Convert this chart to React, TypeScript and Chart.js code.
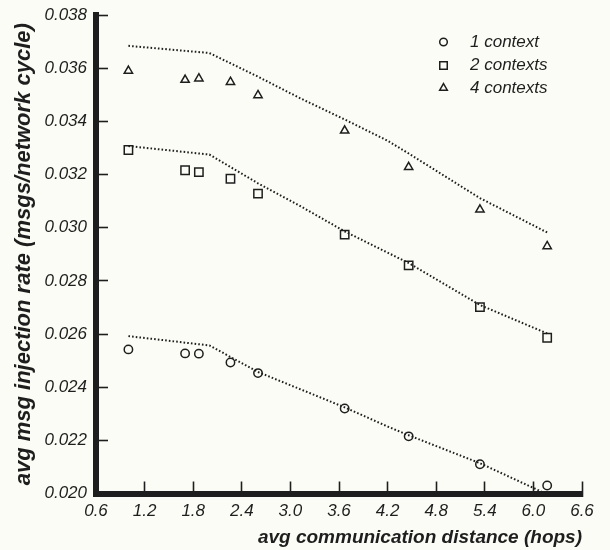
import React, { useEffect, useRef } from 'react';
import { Chart, registerables } from 'chart.js';
import { drawPoint } from 'chart.js/helpers';

Chart.register(...registerables);

// ---- data ----
const distances = [1.0, 1.7, 1.87, 2.26, 2.6, 3.67, 4.46, 5.34, 6.17];
const oneContext = [0.02542, 0.02527, 0.02526, 0.02493, 0.02453, 0.0232, 0.02215, 0.0211, 0.0203];
const twoContexts = [0.03292, 0.03216, 0.03209, 0.03184, 0.03128, 0.02974, 0.02858, 0.02701, 0.02586];
const fourContexts = [0.0359, 0.03556, 0.03561, 0.03548, 0.03498, 0.03365, 0.03228, 0.03068, 0.0293];

const modelDistances = [1.0, 2.0, 2.6, 3.1, 3.67, 4.2, 4.46, 5.34, 6.17];
const oneContextModel = [0.02592, 0.02557, 0.02457, 0.02395, 0.02324, 0.02252, 0.02219, 0.02114, 0.01997];
const twoContextsModel = [0.03307, 0.03275, 0.03167, 0.03085, 0.02986, 0.02906, 0.02867, 0.02709, 0.02602];
const fourContextsModel = [0.03684, 0.03657, 0.03568, 0.0349, 0.03407, 0.03327, 0.03279, 0.03111, 0.02982];

const seriesLabels = ['1 context', '2 contexts', '4 contexts'];
const xTickValues = [0.6, 1.2, 1.8, 2.4, 3.0, 3.6, 4.2, 4.8, 5.4, 6.0, 6.6];
const yTickValues = [0.02, 0.022, 0.024, 0.026, 0.028, 0.03, 0.032, 0.034, 0.036, 0.038];
const xTitle = 'avg communication distance (hops)';
const yTitle = 'avg msg injection rate (msgs/network cycle)';

const INK = '#1e1e1e';
const PAPER = '#fcfcf6';
const FAMILY = '"Liberation Sans", Arial, Helvetica, sans-serif';

const toPoints = (xs: number[], ys: number[]) => xs.map((x, i) => ({ x, y: ys[i] }));

const markerStyles = [
  { pointStyle: 'circle', radius: 4.2, legendRadius: 3.8 },
  { pointStyle: 'rect', radius: 5.9, legendRadius: 5.3 },
  { pointStyle: 'triangle', radius: 4.8, legendRadius: 4.4 },
];

const insetLegend = {
  id: 'insetLegend',
  afterDatasetsDraw(chart: any) {
    const { ctx, chartArea } = chart;
    const mx = chartArea.right - 138.5;
    const tx = mx + 26.5;
    const rows = [27, 50.5, 73];
    ctx.save();
    seriesLabels.forEach((label, i) => {
      const y = chartArea.top + rows[i];
      ctx.strokeStyle = INK;
      ctx.fillStyle = 'rgba(0,0,0,0)';
      ctx.lineWidth = 1.5;
      drawPoint(ctx, { pointStyle: markerStyles[i].pointStyle, radius: markerStyles[i].legendRadius, rotation: 0, borderWidth: 1.5 } as any, mx, y);
      ctx.fillStyle = INK;
      ctx.font = `italic 17px ${FAMILY}`;
      ctx.textAlign = 'left';
      ctx.textBaseline = 'middle';
      ctx.fillText(label, tx, y);
    });
    ctx.restore();
  },
};

export default function App() {
  const canvasRef = useRef<HTMLCanvasElement | null>(null);

  useEffect(() => {
    const canvas = canvasRef.current;
    if (!canvas) return;

    const pointSets = [oneContext, twoContexts, fourContexts];
    const modelSets = [oneContextModel, twoContextsModel, fourContextsModel];

    const pointDatasets = pointSets.map((ys, i) => ({
      label: seriesLabels[i],
      data: toPoints(distances, ys),
      showLine: false,
      pointStyle: markerStyles[i].pointStyle,
      pointRadius: markerStyles[i].radius,
      pointBorderWidth: 1.5,
      pointBorderColor: INK,
      pointBackgroundColor: 'rgba(0,0,0,0)',
      borderColor: INK,
      backgroundColor: 'rgba(0,0,0,0)',
      order: 0,
    }));

    const modelDatasets = modelSets.map((ys, i) => ({
      label: seriesLabels[i] + ' model',
      data: toPoints(modelDistances, ys),
      showLine: true,
      pointRadius: 0,
      borderColor: INK,
      borderWidth: 2,
      borderDash: [1.6, 2.1],
      tension: 0,
      fill: false,
      order: 1,
    }));

    const tickFont = { family: FAMILY, size: 17, style: 'italic' as const };
    const xTitleFont = { family: FAMILY, size: 19, style: 'italic' as const, weight: 'bold' as const };
    const yTitleFont = { family: FAMILY, size: 22, style: 'italic' as const, weight: 'bold' as const };

    const chart = new Chart(canvas, {
      type: 'scatter',
      data: { datasets: [...pointDatasets, ...modelDatasets] as any },
      options: {
        responsive: false,
        animation: false,
        events: [],
        layout: { padding: { left: 0, right: 28, top: 15, bottom: 0 } },
        plugins: {
          legend: { display: false },
          tooltip: { enabled: false },
        },
        scales: {
          x: {
            type: 'linear',
            position: 'bottom',
            min: 0.6,
            max: 6.6,
            afterFit: (s: any) => {
              s.height = 56.5;
              s.paddingLeft = 0;
              s.paddingRight = 0;
            },
            afterBuildTicks: (s: any) => { s.ticks = xTickValues.map((v) => ({ value: v })); },
            ticks: {
              callback: (v: any) => Number(v).toFixed(1),
              font: tickFont,
              color: INK,
              padding: 20,
              maxRotation: 0,
              autoSkip: false,
            },
            grid: {
              drawOnChartArea: false,
              drawTicks: true,
              tickLength: -12,
              tickWidth: 1.6,
              tickColor: INK,
            },
            border: { display: true, width: 6, color: INK },
            title: {
              display: true,
              text: xTitle,
              align: 'end',
              color: INK,
              font: xTitleFont,
              padding: { top: 0, bottom: 1 },
            },
          },
          y: {
            type: 'linear',
            position: 'left',
            min: 0.02,
            max: 0.038,
            afterFit: (s: any) => {
              s.width = 96;
              s.paddingTop = 0;
              s.paddingBottom = 0;
            },
            afterBuildTicks: (s: any) => { s.ticks = yTickValues.map((v) => ({ value: v })); },
            ticks: {
              callback: (v: any) => Number(v).toFixed(3),
              font: tickFont,
              color: INK,
              padding: 21,
              autoSkip: false,
            },
            grid: {
              drawOnChartArea: false,
              drawTicks: true,
              tickLength: -12,
              tickWidth: 1.6,
              tickColor: INK,
            },
            border: { display: true, width: 6, color: INK },
            title: {
              display: true,
              text: yTitle,
              color: INK,
              font: yTitleFont,
              padding: { top: 11, bottom: 0 },
            },
          },
        },
      },
      plugins: [insetLegend],
    });

    return () => chart.destroy();
  }, []);

  return (
    <div style={{ position: 'fixed', left: 0, top: 0, width: 610, height: 550, background: PAPER }}>
      <canvas ref={canvasRef} width={610} height={550} style={{ display: 'block', width: 610, height: 550 }} />
    </div>
  );
}
